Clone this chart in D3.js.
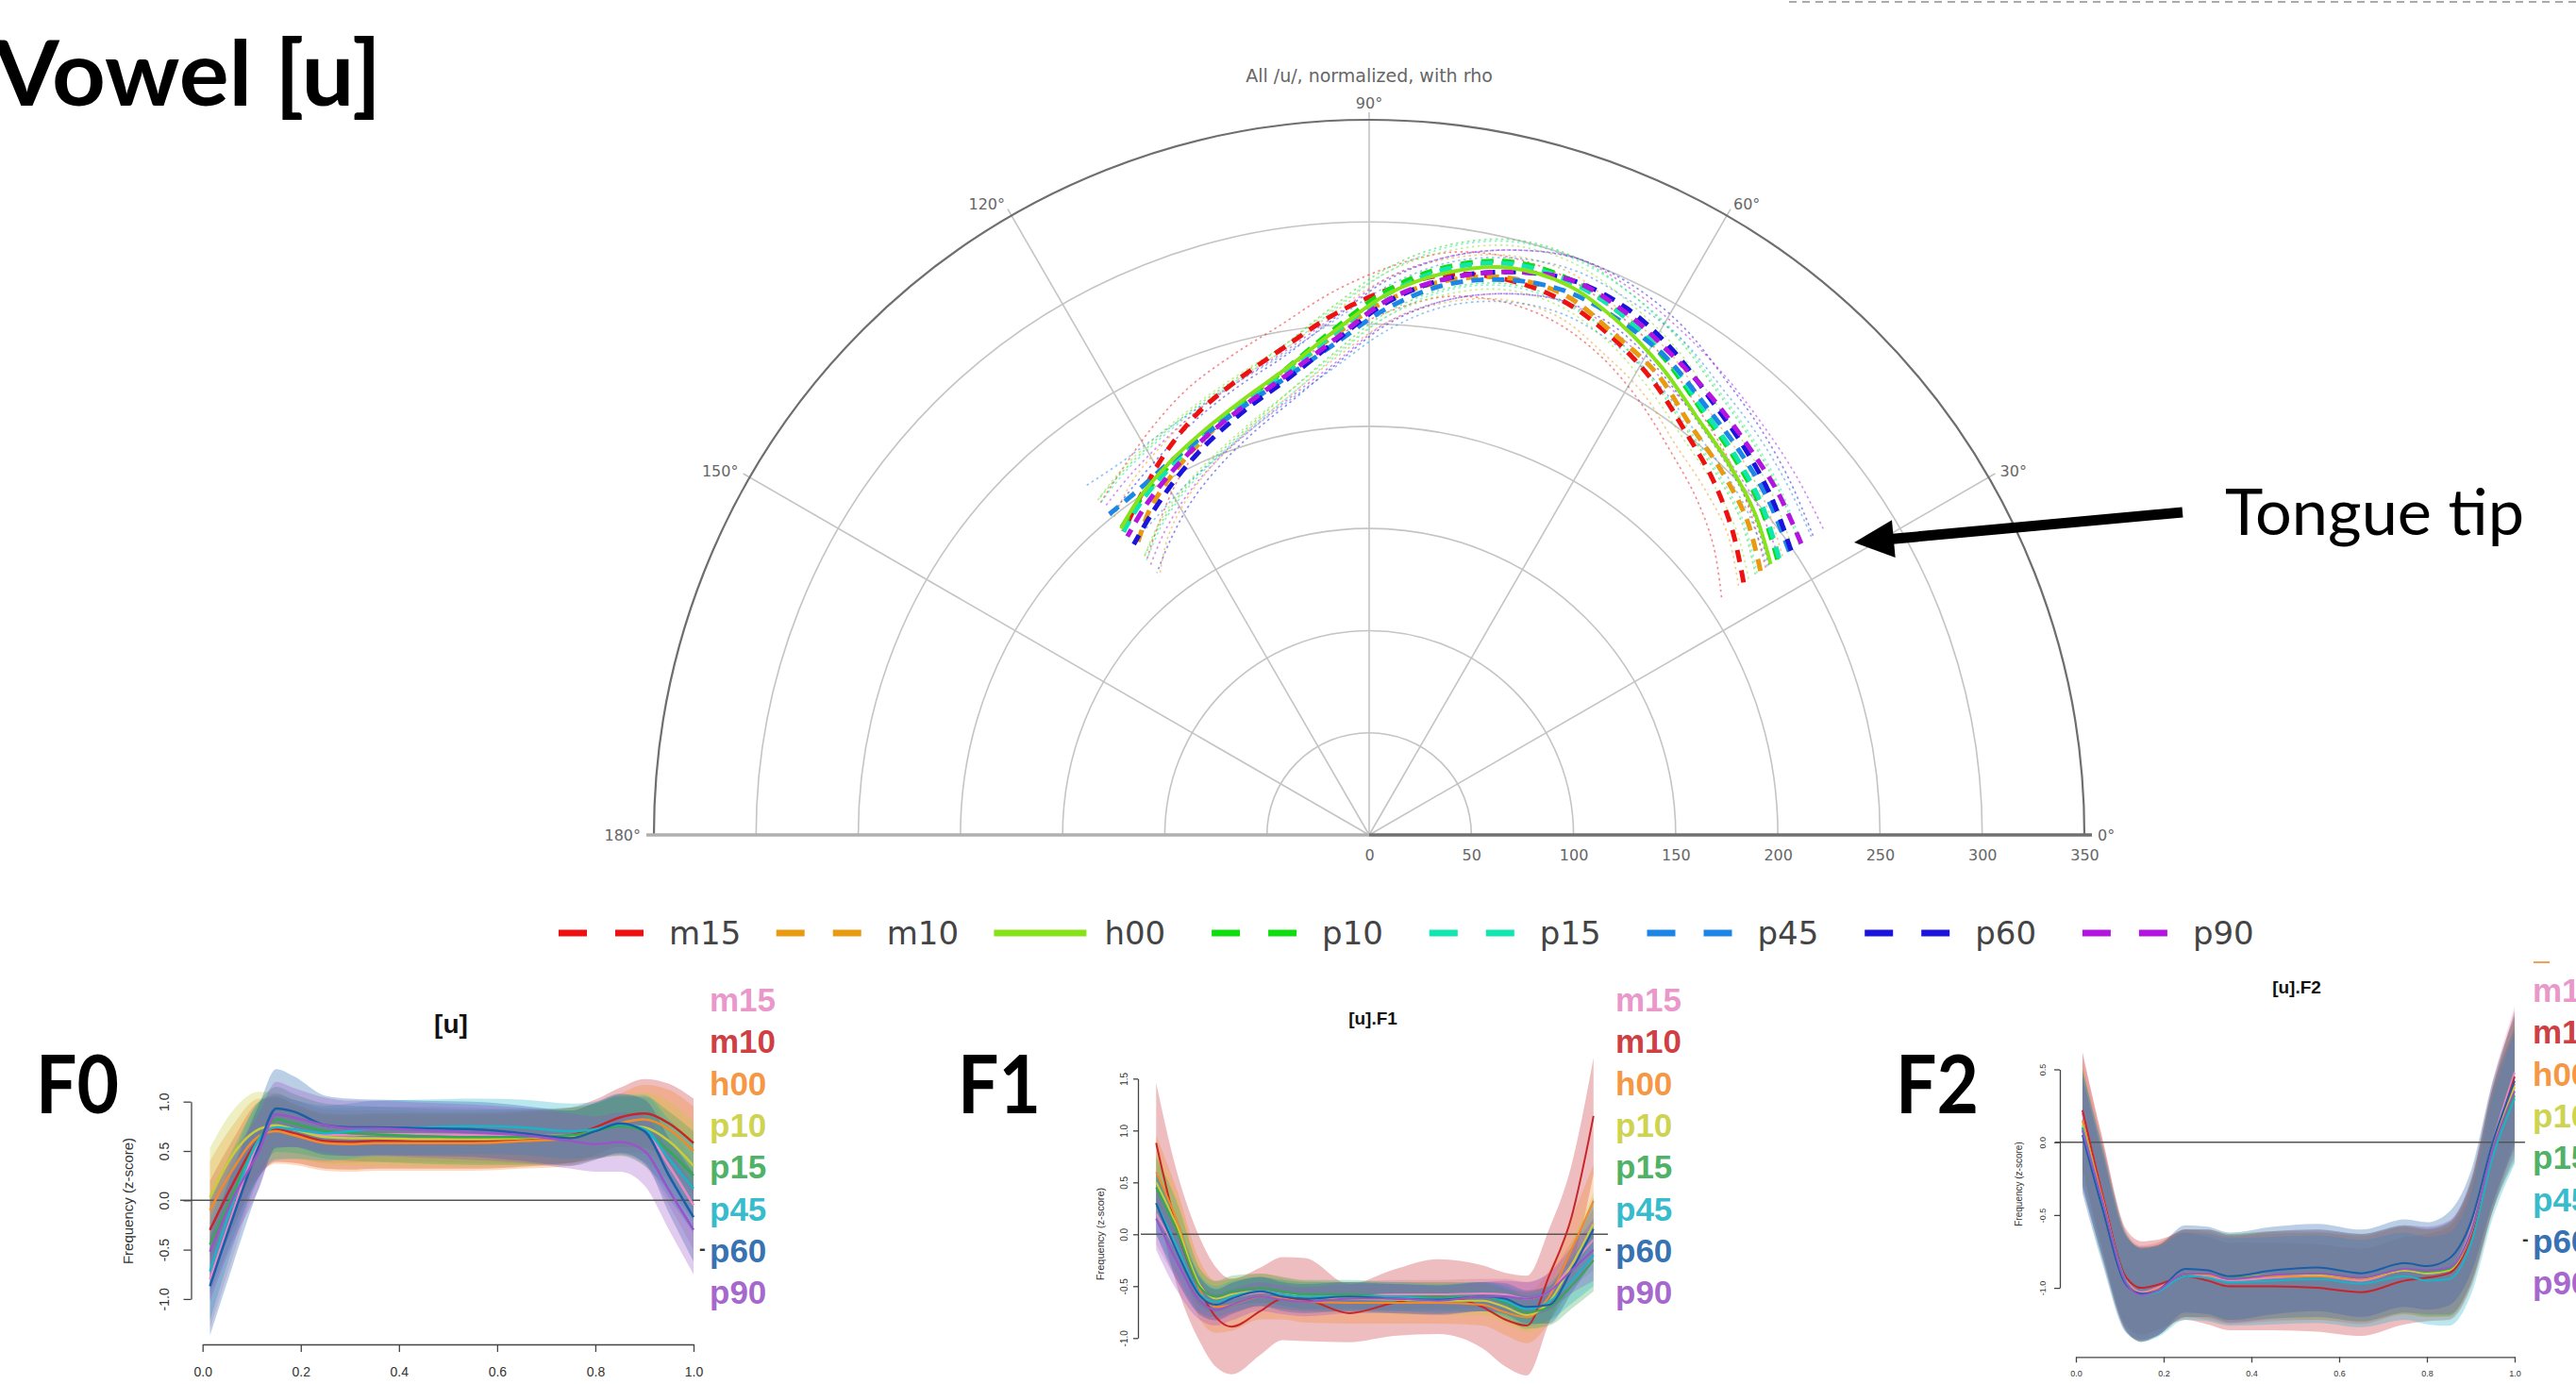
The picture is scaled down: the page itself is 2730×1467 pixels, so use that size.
<!DOCTYPE html>
<html lang="en">
<head>
<meta charset="UTF-8" />
<title>Vowel [u]</title>
<style>
  body { margin: 0; background: #fff; }
  svg { display: block; overflow: hidden; }
  .slide { font-family: Lato, 'Open Sans', sans-serif; fill: #000; }
  .polar text { font-family: 'DejaVu Sans', Verdana, sans-serif; fill: #666; }
  .panel text { font-family: 'Liberation Sans', Arial, sans-serif; }
</style>
</head>
<body>
<svg id="chart" width="2730" height="1467"></svg>
<script src="https://d3js.org/d3.v7.min.js"></script>
<script>
// ---- tongue contours, polar (theta in degrees, rho) ----
const categories = ["m15", "m10", "h00", "p10", "p15", "p45", "p60", "p90"];
const thetaGrid = [34, 40, 46, 52, 58, 64, 70, 76, 82, 88, 94, 100, 106, 112, 118, 124, 129];
const rhoM15 = [221, 232, 242, 251, 262, 271, 278, 280, 277, 267, 255, 242, 232, 223, 212, 200, 191];
const rhoM10 = [231, 241, 248, 255, 266, 273, 281, 281, 274, 262, 245, 230, 220, 211, 202, 192, 181];
const rhoH00 = [237, 246, 253, 260, 270, 279, 286, 286, 278, 265, 247, 232, 222, 214, 207, 200, 193];
const rhoP10 = [241, 250, 257, 264, 274, 283, 289, 289, 281, 267, 248, 232, 221, 213, 206, 199, 193];
const rhoP15 = [242, 251, 258, 265, 275, 283, 288, 288, 280, 265, 246, 230, 220, 212, 205, 198, 191];
const rhoP45 = [248, 255, 261, 267, 275, 280, 283, 280, 272, 258, 241, 228, 219, 212, 207, 203, 202];
const rhoP60 = [249, 257, 264, 271, 280, 287, 289, 284, 275, 261, 242, 227, 217, 208, 199, 190, 183];
const rhoP90 = [255, 261, 266, 272, 278, 285, 289, 284, 275, 262, 243, 229, 219, 211, 203, 195, 188];
const rhoSd  = [13, 12, 12, 12, 12, 11, 11, 11, 11, 11, 11, 11, 12, 13, 14, 16, 18];
const rhoMeans = [rhoM15, rhoM10, rhoH00, rhoP10, rhoP15, rhoP45, rhoP60, rhoP90];
const contourColors = ["#ee1111", "#e89a10", "#88e21a", "#10dd10", "#12e6b0", "#1c86e6", "#1a14dc", "#b414e0"];
const radialTicks = [0, 50, 100, 150, 200, 250, 300, 350];
const angleTicks = [0, 30, 60, 90, 120, 150, 180];

// ---- formant / f0 time courses (normalised time, z-score) ----
const timeGrid = [0.015, 0.06, 0.115, 0.15, 0.185, 0.25, 0.3, 0.35, 0.45, 0.55, 0.65, 0.75, 0.8, 0.85, 0.9, 0.95, 1.0];
const timeTicks = [0, 0.2, 0.4, 0.6, 0.8, 1.0];
const panelColors = ["#e78ac3", "#c8252a", "#f5892a", "#c8cd38", "#36a852", "#1bb3c6", "#1b5ea8", "#9b53c8"];

const f0M15 = [-0.8, -0.15, 0.6, 0.75, 0.72, 0.66, 0.66, 0.67, 0.67, 0.66, 0.65, 0.66, 0.7, 0.76, 0.7, 0.35, -0.05];
const f0M10 = [-0.3, 0.15, 0.62, 0.72, 0.68, 0.6, 0.59, 0.6, 0.6, 0.6, 0.62, 0.66, 0.74, 0.84, 0.88, 0.78, 0.58];
const f0H00 = [-0.1, 0.3, 0.65, 0.7, 0.66, 0.58, 0.57, 0.58, 0.58, 0.58, 0.6, 0.63, 0.7, 0.78, 0.82, 0.72, 0.5];
const f0P10 = [0.03, 0.45, 0.72, 0.76, 0.72, 0.64, 0.63, 0.63, 0.62, 0.62, 0.63, 0.65, 0.7, 0.76, 0.74, 0.6, 0.35];
const f0P15 = [-0.45, 0.05, 0.62, 0.82, 0.78, 0.7, 0.68, 0.67, 0.65, 0.64, 0.64, 0.66, 0.7, 0.75, 0.7, 0.5, 0.25];
const f0P45 = [-0.72, -0.05, 0.62, 0.74, 0.72, 0.68, 0.7, 0.73, 0.74, 0.75, 0.74, 0.7, 0.72, 0.77, 0.72, 0.42, 0.12];
const f0P60 = [-0.87, -0.2, 0.55, 0.93, 0.9, 0.76, 0.74, 0.74, 0.73, 0.72, 0.68, 0.63, 0.7, 0.78, 0.7, 0.25, -0.17];
const f0P90 = [-0.52, 0.0, 0.5, 0.87, 0.84, 0.76, 0.73, 0.73, 0.71, 0.69, 0.66, 0.6, 0.57, 0.59, 0.5, 0.1, -0.3];
const f0Sd    = [0.5, 0.45, 0.38, 0.33, 0.3, 0.28, 0.28, 0.28, 0.28, 0.28, 0.28, 0.28, 0.28, 0.3, 0.35, 0.4, 0.45];
const f0SdP60 = [0.5, 0.48, 0.42, 0.4, 0.36, 0.3, 0.29, 0.28, 0.28, 0.28, 0.28, 0.28, 0.29, 0.3, 0.32, 0.38, 0.45];

const f1M15 = [0.2, -0.15, -0.6, -0.68, -0.62, -0.56, -0.58, -0.6, -0.6, -0.58, -0.58, -0.57, -0.58, -0.62, -0.55, -0.3, -0.05];
const f1M10 = [0.88, 0.08, -0.55, -0.8, -0.89, -0.74, -0.62, -0.63, -0.76, -0.66, -0.6, -0.7, -0.82, -0.88, -0.4, 0.16, 1.14];
const f1H00 = [0.6, 0.15, -0.55, -0.7, -0.68, -0.6, -0.62, -0.65, -0.66, -0.66, -0.66, -0.68, -0.75, -0.8, -0.6, -0.15, 0.32];
const f1P10 = [0.5, 0.1, -0.5, -0.62, -0.58, -0.55, -0.58, -0.6, -0.62, -0.63, -0.64, -0.64, -0.7, -0.78, -0.65, -0.3, 0.1];
const f1P15 = [0.45, 0.05, -0.52, -0.6, -0.55, -0.52, -0.55, -0.58, -0.58, -0.6, -0.6, -0.6, -0.66, -0.75, -0.7, -0.5, -0.25];
const f1P45 = [0.3, -0.1, -0.58, -0.65, -0.6, -0.55, -0.58, -0.6, -0.6, -0.6, -0.62, -0.6, -0.64, -0.72, -0.65, -0.45, -0.2];
const f1P60 = [0.3, -0.15, -0.6, -0.68, -0.62, -0.55, -0.6, -0.62, -0.6, -0.62, -0.63, -0.6, -0.62, -0.7, -0.68, -0.35, 0.05];
const f1P90 = [0.15, -0.25, -0.65, -0.73, -0.68, -0.6, -0.63, -0.65, -0.62, -0.62, -0.64, -0.6, -0.6, -0.62, -0.55, -0.35, -0.15];
const f1Sd    = [0.3, 0.28, 0.18, 0.15, 0.15, 0.14, 0.14, 0.14, 0.14, 0.14, 0.14, 0.14, 0.15, 0.16, 0.18, 0.22, 0.3];
const f1SdM10 = [0.58, 0.55, 0.5, 0.48, 0.46, 0.42, 0.4, 0.4, 0.28, 0.32, 0.36, 0.4, 0.45, 0.48, 0.45, 0.5, 0.56];
const f1SdH00 = [0.35, 0.3, 0.28, 0.25, 0.25, 0.22, 0.2, 0.2, 0.2, 0.2, 0.2, 0.2, 0.22, 0.25, 0.25, 0.3, 0.35];

const f2M15 = [0.2, -0.35, -0.95, -1.03, -1.0, -0.9, -0.92, -0.95, -0.93, -0.92, -0.95, -0.88, -0.9, -0.87, -0.6, 0.0, 0.48];
const f2M10 = [0.22, -0.35, -0.93, -1.0, -0.98, -0.92, -0.95, -0.99, -0.99, -1.0, -1.03, -0.95, -0.93, -0.9, -0.65, -0.05, 0.45];
const f2H00 = [0.15, -0.38, -0.96, -1.04, -1.01, -0.9, -0.91, -0.94, -0.92, -0.92, -0.94, -0.88, -0.9, -0.88, -0.63, -0.03, 0.4];
const f2P10 = [0.12, -0.4, -0.97, -1.05, -1.02, -0.9, -0.9, -0.93, -0.91, -0.91, -0.93, -0.88, -0.9, -0.88, -0.62, -0.05, 0.38];
const f2P15 = [0.1, -0.42, -0.97, -1.05, -1.02, -0.9, -0.9, -0.93, -0.91, -0.9, -0.93, -0.87, -0.89, -0.87, -0.62, -0.05, 0.32];
const f2P45 = [0.1, -0.4, -0.96, -1.05, -1.03, -0.92, -0.93, -0.96, -0.95, -0.94, -0.97, -0.92, -0.95, -0.94, -0.7, -0.1, 0.3];
const f2P60 = [0.05, -0.45, -0.98, -1.04, -1.02, -0.87, -0.88, -0.92, -0.88, -0.86, -0.9, -0.83, -0.85, -0.8, -0.55, 0.0, 0.42];
const f2P90 = [0.08, -0.4, -0.97, -1.05, -1.02, -0.9, -0.9, -0.94, -0.91, -0.9, -0.93, -0.87, -0.88, -0.86, -0.62, -0.05, 0.35];
const f2Sd  = [0.4, 0.38, 0.33, 0.32, 0.31, 0.3, 0.3, 0.3, 0.3, 0.3, 0.3, 0.3, 0.3, 0.32, 0.35, 0.42, 0.45];

const svg = d3.select("#chart");

// ---------- slide text ----------
svg.append("text").attr("class", "slide").attr("x", -6).attr("y", 112)
  .attr("font-size", 96).attr("font-weight", 700)
  .attr("textLength", 410).attr("lengthAdjust", "spacingAndGlyphs")
  .text("Vowel [u]");

svg.append("line").attr("x1", 1896).attr("x2", 2730).attr("y1", 2).attr("y2", 2)
  .attr("stroke", "#aaa").attr("stroke-width", 2).attr("stroke-dasharray", "8,6");

// ---------- polar chart ----------
const cx = 1451, cy = 885;
const rScale = d3.scaleLinear().domain([0, 350]).range([0, 758]);
const aScale = d3.scaleLinear().domain([0, 180]).range([Math.PI / 2, -Math.PI / 2]);
const R = rScale(350);
const polar = svg.append("g").attr("class", "polar").attr("transform", `translate(${cx},${cy})`);
const pt = (deg, px) => [px * Math.cos(deg * Math.PI / 180), -px * Math.sin(deg * Math.PI / 180)];

function halfCircle(r) {
  const p = d3.path();
  p.moveTo(-r, 0);
  p.arc(0, 0, r, Math.PI, 2 * Math.PI);
  return p.toString();
}

polar.selectAll(".ring").data(radialTicks.filter(d => d > 0 && d < 350)).join("path")
  .attr("d", d => halfCircle(rScale(d))).attr("fill", "none")
  .attr("stroke", "#c4c4c4").attr("stroke-width", 1.6);

polar.selectAll(".spoke").data(angleTicks.filter(d => d > 0 && d < 180)).join("line")
  .attr("x1", 0).attr("y1", 0)
  .attr("x2", d => pt(d, R + 8)[0]).attr("y2", d => pt(d, R + 8)[1])
  .attr("stroke", "#c4c4c4").attr("stroke-width", 1.6);

polar.append("path").attr("d", halfCircle(R)).attr("fill", "none")
  .attr("stroke", "#6e6e6e").attr("stroke-width", 2.2);

polar.append("line").attr("x1", -R - 8).attr("x2", 0).attr("y1", 0).attr("y2", 0)
  .attr("stroke", "#b0b0b0").attr("stroke-width", 3.5);
polar.append("line").attr("x1", 0).attr("x2", R + 8).attr("y1", 0).attr("y2", 0)
  .attr("stroke", "#707070").attr("stroke-width", 3.5);

polar.selectAll(".alab").data(angleTicks).join("text")
  .attr("x", d => d === 90 ? 0 : pt(d, R + 14)[0])
  .attr("y", d => d === 90 ? -R - 12 : pt(d, R + 14)[1])
  .attr("dy", d => d === 90 ? 0 : "0.35em")
  .attr("text-anchor", d => d === 90 ? "middle" : (d < 90 ? "start" : "end"))
  .attr("font-size", 16)
  .text(d => d + "°");

const rAxis = polar.append("g").attr("transform", "translate(0,4)")
  .call(d3.axisBottom(rScale).tickValues(radialTicks).tickSize(0).tickPadding(12));
rAxis.select(".domain").remove();
rAxis.selectAll("text").attr("font-size", 16).attr("fill", "#666")
  .attr("font-family", "'DejaVu Sans', Verdana, sans-serif");

polar.append("text").attr("x", 0).attr("y", 87 - cy).attr("text-anchor", "middle")
  .attr("font-size", 19).attr("fill", "#555")
  .text("All /u/, normalized, with rho");

const radial = d3.lineRadial()
  .angle(d => aScale(d.theta)).radius(d => rScale(d.rho))
  .curve(d3.curveCatmullRom);

const contourRows = (vals, sign) => thetaGrid.map((t, i) => ({ theta: t, rho: vals[i] + sign * rhoSd[i] }));

// +/- SD dotted
rhoMeans.forEach((vals, i) => {
  [-1, 1].forEach(s => {
    polar.append("path").attr("d", radial(contourRows(vals, s)))
      .attr("fill", "none").attr("stroke", contourColors[i])
      .attr("stroke-width", 1.6).attr("stroke-dasharray", "2.5,3.5")
      .attr("stroke-opacity", 0.5);
  });
});
// means
const meanOrder = [0, 1, 3, 4, 5, 6, 7, 2];
meanOrder.forEach(i => {
  const solid = categories[i] === "h00";
  polar.append("path").attr("d", radial(contourRows(rhoMeans[i], 0)))
    .attr("fill", "none").attr("stroke", contourColors[i])
    .attr("stroke-width", solid ? 4 : 5)
    .attr("stroke-dasharray", solid ? null : "13,9");
});

// legend under the polar chart
const legendX0 = 592, legendPitch = 230.7, legendY = 989;
const leg = svg.append("g");
categories.forEach((c, i) => {
  const lx = legendX0 + i * legendPitch;
  const solid = c === "h00";
  leg.append("line").attr("x1", lx).attr("x2", lx + (solid ? 98 : 90))
    .attr("y1", legendY).attr("y2", legendY)
    .attr("stroke", contourColors[i]).attr("stroke-width", 7)
    .attr("stroke-dasharray", solid ? null : "30,30");
  leg.append("text").attr("x", lx + 117).attr("y", legendY).attr("dy", "0.36em")
    .attr("font-family", "'DejaVu Sans', Verdana, sans-serif").attr("font-size", 34)
    .attr("fill", "#444").text(c);
});

// "Tongue tip" annotation
const arrowTail = [2313, 543], arrowTip = [1965, 575];
{
  const dx = arrowTip[0] - arrowTail[0], dy = arrowTip[1] - arrowTail[1];
  const len = Math.hypot(dx, dy), ux = dx / len, uy = dy / len;
  const head = 42, half = 20;
  const bx = arrowTip[0] - ux * head, by = arrowTip[1] - uy * head;
  svg.append("line").attr("x1", arrowTail[0]).attr("y1", arrowTail[1])
    .attr("x2", bx + ux * 4).attr("y2", by + uy * 4)
    .attr("stroke", "#000").attr("stroke-width", 11);
  svg.append("polygon")
    .attr("points", [[arrowTip[0], arrowTip[1]], [bx - uy * half, by + ux * half], [bx + uy * half, by - ux * half]].map(p => p.join(",")).join(" "))
    .attr("fill", "#000");
}
svg.append("text").attr("class", "slide").attr("x", 2358).attr("y", 567)
  .attr("font-size", 68).attr("textLength", 317).attr("lengthAdjust", "spacingAndGlyphs")
  .text("Tongue tip");

// ---------- time-course panels ----------
function drawPanel(p) {
  const x = d3.scaleLinear().domain([0, 1]).range([p.x0, p.x1]);
  const y = d3.scaleLinear().domain([0, 1]).range([p.yZero, p.yZero - p.yUnit]);
  const g = svg.append("g").attr("class", "panel");
  const rows = (m, s) => timeGrid.map((t, i) => ({ t, m: m[i], s: s[i] }));
  const area = d3.area().x(d => x(d.t)).y0(d => y(d.m - d.s)).y1(d => y(d.m + d.s)).curve(d3.curveMonotoneX);
  const line = d3.line().x(d => x(d.t)).y(d => y(d.m)).curve(d3.curveMonotoneX);

  p.means.forEach((m, i) => g.append("path").attr("d", area(rows(m, p.sds[i])))
    .attr("fill", panelColors[i]).attr("fill-opacity", 0.3));

  g.append("line").attr("x1", p.zeroFrom).attr("x2", p.zeroTo)
    .attr("y1", y(0)).attr("y2", y(0)).attr("stroke", "#555").attr("stroke-width", 1.6);

  p.means.forEach((m, i) => g.append("path").attr("d", line(rows(m, p.sds[i])))
    .attr("fill", "none").attr("stroke", panelColors[i]).attr("stroke-width", p.lw));

  // y axis (R style, labels parallel to the axis)
  const yExt = d3.extent(p.yTicks);
  const yAx = y.copy().domain(yExt).range(yExt.map(y));
  const ya = g.append("g").attr("transform", `translate(${p.yAxisX},0)`)
    .call(d3.axisLeft(yAx).tickValues(p.yTicks).tickFormat(d => d.toFixed(1)).tickSize(p.tick).tickSizeOuter(0));
  ya.selectAll("path, line").attr("stroke", "#444").attr("stroke-width", 1.3);
  ya.selectAll("text").attr("x", 0).attr("dy", 0).attr("text-anchor", "middle")
    .attr("transform", `translate(${-p.yLabOff},0) rotate(-90)`)
    .attr("font-size", p.tickFont).attr("fill", "#333")
    .attr("font-family", "'Liberation Sans', Arial, sans-serif");

  if (p.xAxisY) {
    const xa = g.append("g").attr("transform", `translate(0,${p.xAxisY})`)
      .call(d3.axisBottom(x).tickValues(timeTicks).tickFormat(d => d.toFixed(1))
        .tickSize(p.tick).tickSizeOuter(0).tickPadding(p.xPad));
    xa.selectAll("path, line").attr("stroke", "#444").attr("stroke-width", 1.3);
    xa.selectAll("text").attr("font-size", p.tickFont).attr("fill", "#333")
      .attr("font-family", "'Liberation Sans', Arial, sans-serif");
  }

  g.append("text").attr("transform", `translate(${p.axisTitleX},${p.axisTitleY}) rotate(-90)`)
    .attr("text-anchor", "middle").attr("font-size", p.axisTitleFont).attr("fill", "#333")
    .text("Frequency (z-score)");

  g.append("text").attr("x", p.titleX).attr("y", p.titleY).attr("text-anchor", "middle")
    .attr("font-size", p.titleFont).attr("font-weight", 700).attr("fill", "#111")
    .text(p.title);

  svg.append("text").attr("class", "slide").attr("x", p.labelX).attr("y", 1180)
    .attr("font-size", 86).attr("font-weight", 700)
    .attr("textLength", 88).attr("lengthAdjust", "spacingAndGlyphs")
    .text(p.label);

  categories.forEach((c, i) => {
    g.append("text").attr("x", p.legendX).attr("y", p.legendY0 + i * 44.3)
      .attr("font-size", 35).attr("font-weight", 700)
      .attr("fill", panelColors[i]).attr("fill-opacity", 0.9).text(c);
  });
  g.append("text").attr("x", p.legendX - 11).attr("y", p.legendY0 + 6 * 44.3 - 8)
    .attr("font-size", 20).attr("font-weight", 700).attr("fill", "#333").text("-");
}

drawPanel({
  label: "F0", labelX: 38, title: "[u]", titleX: 478, titleY: 1095, titleFont: 28,
  x0: 214.7, x1: 735, yZero: 1272.3, yUnit: 104.6,
  yTicks: [-1, -0.5, 0, 0.5, 1], yAxisX: 202.5, yLabOff: 24, tick: 8, tickFont: 14,
  xAxisY: 1425, xPad: 16, zeroFrom: 191, zeroTo: 742,
  axisTitleX: 141, axisTitleY: 1273, axisTitleFont: 15,
  legendX: 752, legendY0: 1072, lw: 2.5,
  means: [f0M15, f0M10, f0H00, f0P10, f0P15, f0P45, f0P60, f0P90],
  sds: [f0Sd, f0Sd, f0Sd, f0Sd, f0Sd, f0Sd, f0SdP60, f0Sd]
});

drawPanel({
  label: "F1", labelX: 1015, title: "[u].F1", titleX: 1455, titleY: 1086, titleFont: 19,
  x0: 1218.2, x1: 1688.8, yZero: 1308.3, yUnit: 110,
  yTicks: [-1, -0.5, 0, 0.5, 1, 1.5], yAxisX: 1206, yLabOff: 11, tick: 5, tickFont: 10,
  xAxisY: null, zeroFrom: 1209, zeroTo: 1704,
  axisTitleX: 1170, axisTitleY: 1308, axisTitleFont: 11,
  legendX: 1712, legendY0: 1072, lw: 2,
  means: [f1M15, f1M10, f1H00, f1P10, f1P15, f1P45, f1P60, f1P90],
  sds: [f1Sd, f1SdM10, f1SdH00, f1Sd, f1Sd, f1Sd, f1Sd, f1Sd]
});

drawPanel({
  label: "F2", labelX: 2009, title: "[u].F2", titleX: 2434, titleY: 1053, titleFont: 19,
  x0: 2200, x1: 2665, yZero: 1210.7, yUnit: 154.4,
  yTicks: [-1, -0.5, 0, 0.5], yAxisX: 2183, yLabOff: 15, tick: 6, tickFont: 9,
  xAxisY: 1438.3, xPad: 8, zeroFrom: 2178, zeroTo: 2676,
  axisTitleX: 2143, axisTitleY: 1255, axisTitleFont: 10,
  legendX: 2684, legendY0: 1062, lw: 2,
  means: [f2M15, f2M10, f2H00, f2P10, f2P15, f2P45, f2P60, f2P90],
  sds: [f2Sd, f2Sd, f2Sd, f2Sd, f2Sd, f2Sd, f2Sd, f2Sd]
});

svg.append("line").attr("x1", 2685).attr("x2", 2702).attr("y1", 1020).attr("y2", 1020)
  .attr("stroke", "#f5a050").attr("stroke-width", 2);
</script>
</body>
</html>
